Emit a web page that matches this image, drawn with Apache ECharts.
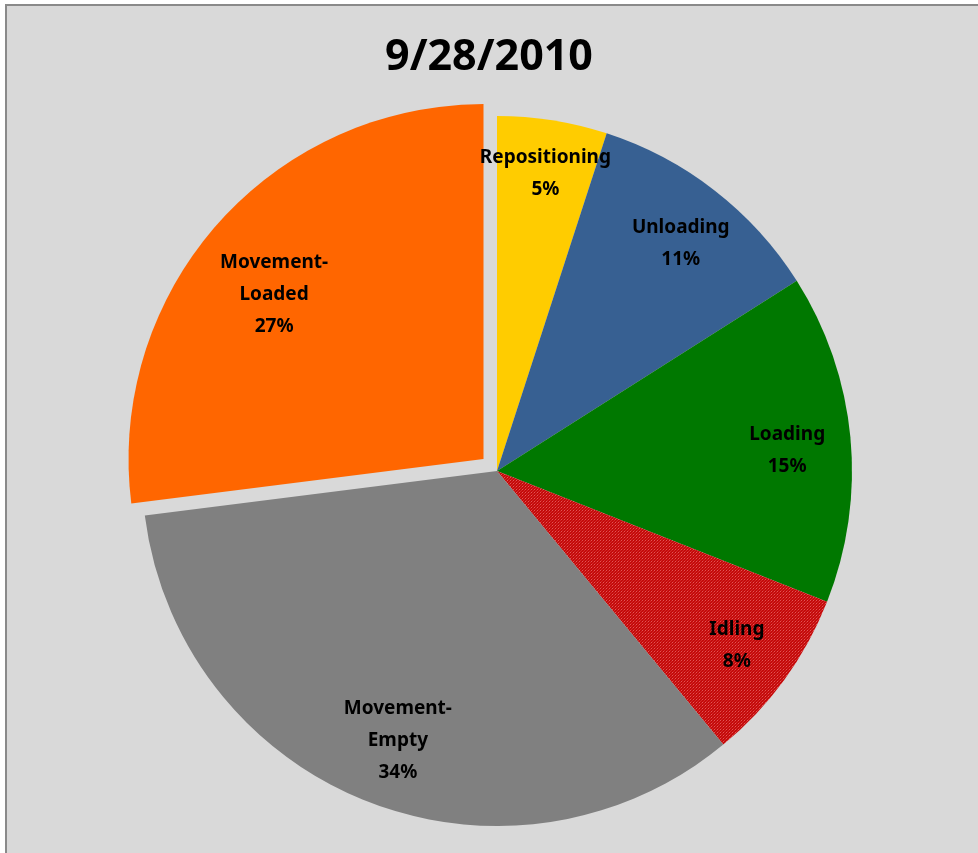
<!DOCTYPE html>
<html>
<head>
<meta charset="utf-8">
<script src="https://cdn.jsdelivr.net/npm/echarts@6/dist/echarts.min.js"></script>
<style>
  html, body { margin: 0; padding: 0; background: #fff; }
  #chart { width: 978px; height: 853px; }
</style>
</head>
<body>
<div id="chart"></div>
<script>
const titleText = '9/28/2010'
const categories = ['Repositioning', 'Unloading', 'Loading', 'Idling', 'Movement-Empty', 'Movement-Loaded']
const shares = [5, 11, 15, 8, 34, 27]
const colors = ['#ffcc00', '#376092', '#007800', null, '#808080', '#ff6600']
const explodedName = 'Movement-Loaded'

// little red dotted pattern for the Idling slice
const makeRedPattern = () => {
  const c = document.createElement('canvas')
  c.width = 3
  c.height = 3
  const ctx = c.getContext('2d')
  ctx.fillStyle = '#c40a0a'
  ctx.fillRect(0, 0, 3, 3)
  ctx.fillStyle = '#e25555'
  ctx.fillRect(0, 0, 1, 1)
  ctx.fillStyle = '#d22a2a'
  ctx.fillRect(2, 1, 1, 1)
  ctx.fillRect(1, 2, 1, 1)
  return { image: c, repeat: 'repeat' }
}

const fill = colors.map((c) => c || makeRedPattern())

const center = [497, 471]
const R = 355

// small label nudges so they sit like the excel "best fit" ones
const nudge = {
  'Repositioning': [2, -5],
  'Unloading': [2, 7],
  'Loading': [-5, 7],
  'Movement-Empty': [10, -6],
  'Movement-Loaded': [13, 32],
}

const chart = echarts.init(document.getElementById('chart'))

chart.setOption({
  animation: false,
  backgroundColor: '#ffffff',
  graphic: [
    {
      type: 'rect',
      z: -10,
      shape: { x: 6, y: 5, width: 990, height: 870 },
      style: { fill: '#d9d9d9', stroke: '#8a8a8a', lineWidth: 2 },
    },
  ],
  title: {
    text: titleText,
    left: 'center',
    top: 31,
    textStyle: {
      fontFamily: 'Noto Sans',
      fontWeight: 'bold',
      fontSize: 43,
      color: '#000',
    },
  },
  series: [
    {
      type: 'pie',
      center: center,
      radius: R,
      startAngle: 90,
      clockwise: true,
      selectedMode: 'single',
      selectedOffset: 18,
      silent: true,
      label: { show: false },
      labelLine: { show: false },
      itemStyle: { borderWidth: 0 },
      data: categories.map((name, i) => ({
        name,
        value: shares[i],
        selected: name === explodedName,
        itemStyle: { color: fill[i] },
      })),
    },
    {
      // transparent copy only to place the labels further out
      type: 'pie',
      center: center,
      radius: [232, R],
      startAngle: 90,
      clockwise: true,
      selectedMode: 'single',
      selectedOffset: 18,
      silent: true,
      z: 3,
      itemStyle: { color: 'rgba(0,0,0,0)', borderWidth: 0 },
      labelLine: { show: false },
      label: {
        show: true,
        position: 'inside',
        fontFamily: 'Noto Sans',
        fontWeight: 'bold',
        fontSize: 19,
        lineHeight: 32,
        color: '#000',
        formatter: (p) => p.name.replace('-', '-\n') + '\n' + Math.round(p.percent) + '%',
      },
      labelLayout: (params) => {
        const n = nudge[categories[params.dataIndex]]
        return n ? { dx: n[0], dy: n[1] } : {}
      },
      data: categories.map((name, i) => ({
        name,
        value: shares[i],
        selected: name === explodedName,
      })),
    },
  ],
})
</script>
</body>
</html>
